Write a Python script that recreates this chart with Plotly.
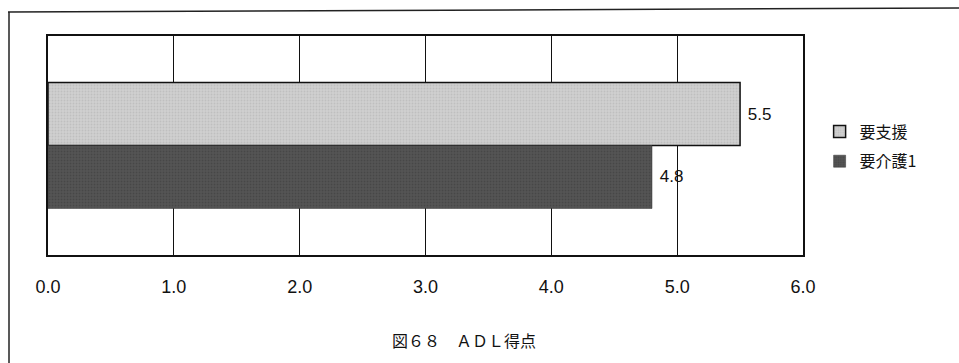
import plotly.graph_objects as go

categories = ["ADL得点"]
series_names = ["要支援", "要介護1"]
values_support = [5.5]
values_care1 = [4.8]
tick_vals = [0, 1, 2, 3, 4, 5, 6]
tick_text = ["0.0", "1.0", "2.0", "3.0", "4.0", "5.0", "6.0"]
title_text = "図６８　ＡＤＬ得点"

JP = "Noto Sans CJK JP"
NUM = "Liberation Sans Narrow, Arial Narrow, Liberation Sans, Arial"

fig = go.Figure()
fig.add_trace(go.Bar(
    y=categories, x=values_support, name=series_names[0], orientation="h",
    marker=dict(color="#c8c8c8", line=dict(color="#111111", width=1.5),
                pattern=dict(shape=".", fgcolor="#b0b0b0", bgcolor="#cfcfcf", size=3, solidity=0.3)),
    text=[f"{v:.1f}" for v in values_support], textposition="outside",
    texttemplate=" %{text}", cliponaxis=False,
    textfont=dict(family=NUM, size=17, color="#111111"),
    legendgroup="a",
))
fig.add_trace(go.Bar(
    y=categories, x=values_care1, name=series_names[1], orientation="h",
    marker=dict(color="#4c4c4c", line=dict(color="#333333", width=0.5),
                pattern=dict(shape=".", fgcolor="#3a3a3a", bgcolor="#555555", size=3, solidity=0.3)),
    text=[f"{v:.1f}" for v in values_care1], textposition="outside",
    texttemplate=" %{text}", cliponaxis=False,
    textfont=dict(family=NUM, size=17, color="#111111"),
    legendgroup="b",
))

fig.update_layout(
    width=959, height=363,
    margin=dict(l=48, r=156, t=36, b=108),
    paper_bgcolor="white", plot_bgcolor="white",
    barmode="group", bargap=0.425, bargroupgap=0,
    showlegend=True,
    legend=dict(x=1.022, y=(255 - 146.5) / 219, xanchor="left", yanchor="middle",
                font=dict(family=JP, size=16, color="#111111"),
                traceorder="grouped", tracegroupgap=6,
                bgcolor="rgba(0,0,0,0)", itemwidth=30),
    xaxis=dict(range=[0, 6], tickvals=tick_vals, ticktext=tick_text,
               showgrid=True, gridcolor="#111111", gridwidth=1,
               showline=True, linecolor="#111111", linewidth=1.5, mirror=True,
               zeroline=False, ticks="", ticklabelstandoff=15,
               tickfont=dict(family=NUM, size=18, color="#111111")),
    yaxis=dict(autorange="reversed", showticklabels=False, showgrid=False,
               showline=True, linecolor="#111111", linewidth=1.5, mirror=True,
               ticks="", zeroline=False),
    annotations=[dict(text=title_text, xref="paper", yref="paper",
                      x=(464 - 48) / 755, y=(255 - 340) / 219,
                      xanchor="center", yanchor="middle", showarrow=False,
                      font=dict(family=JP, size=16, color="#111111"))],
    shapes=[
        dict(type="line", xref="paper", yref="paper",
             x0=(8 - 48) / 755, x1=(959 - 48) / 755, y0=(255 - 12) / 219, y1=(255 - 8) / 219,
             line=dict(color="#222222", width=1.5)),
        dict(type="line", xref="paper", yref="paper",
             x0=(9 - 48) / 755, x1=(9 - 48) / 755, y0=(255 - 12) / 219, y1=(255 - 363) / 219,
             line=dict(color="#222222", width=1.5)),
    ],
)

fig.write_html("out.html", config={"displayModeBar": False},
               post_script="document.body.style.margin='0';document.body.style.overflow='hidden';")
